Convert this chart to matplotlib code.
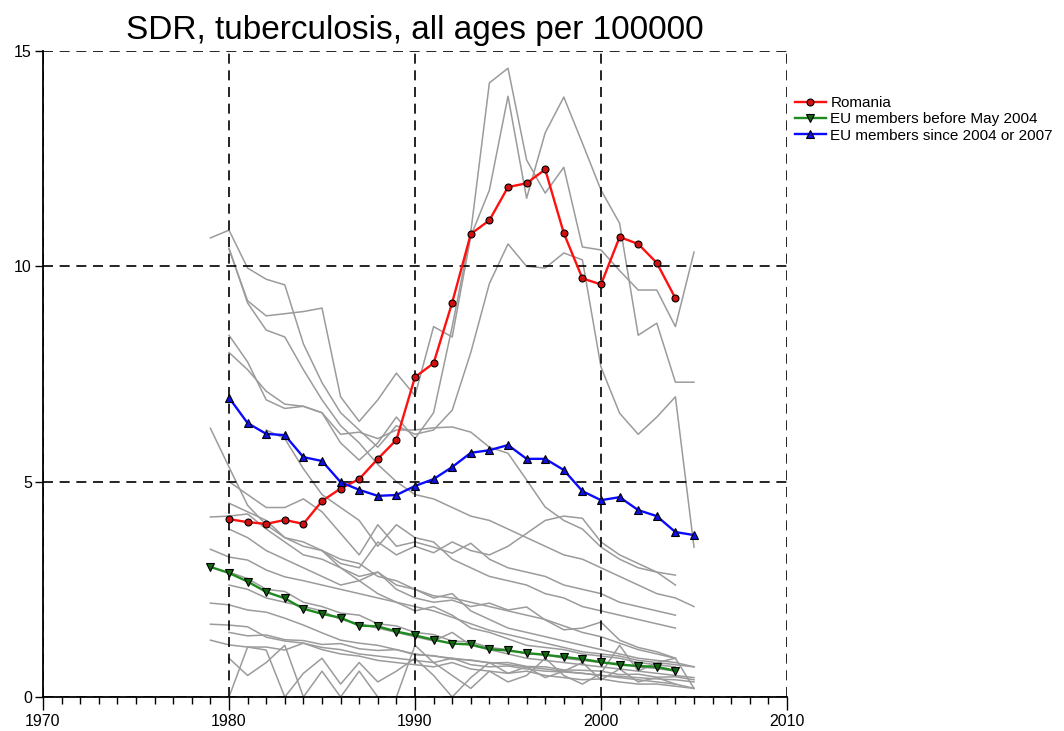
import matplotlib
matplotlib.use("Agg")
import matplotlib.pyplot as plt
from matplotlib.ticker import MultipleLocator

NARROW_STACK = ["Liberation Sans Narrow", "Liberation Sans", "DejaVu Sans"]
REGULAR_STACK = ["Liberation Sans", "DejaVu Sans"]
plt.rcParams["font.family"] = REGULAR_STACK

# ---- highlighted series -------------------------------------------------
romania_years = list(range(1980, 2005))
romania = [4.13, 4.06, 4.02, 4.11, 4.02, 4.55, 4.84, 5.06, 5.53, 5.97,
           7.43, 7.75, 9.16, 10.75, 11.07, 11.84, 11.93, 12.25, 10.77, 9.72,
           9.58, 10.68, 10.52, 10.08, 9.26]

eu_old_years = list(range(1979, 2005))
eu_old = [3.02, 2.88, 2.68, 2.44, 2.29, 2.05, 1.93, 1.84, 1.66, 1.64,
          1.52, 1.43, 1.33, 1.24, 1.22, 1.11, 1.08, 1.02, 0.98, 0.93,
          0.88, 0.81, 0.75, 0.72, 0.70, 0.61]

eu_new_years = list(range(1980, 2006))
eu_new = [6.95, 6.36, 6.11, 6.08, 5.57, 5.48, 4.99, 4.81, 4.67, 4.69,
          4.90, 5.06, 5.34, 5.67, 5.73, 5.85, 5.53, 5.53, 5.27, 4.78,
          4.57, 4.64, 4.34, 4.20, 3.83, 3.76]

# ---- individual countries (grey background lines) ------------------------
# each entry: first year, then yearly values
c01_start = 1979
c01 = [10.66, 10.84, 9.96, 9.7, 9.57, 8.2, 7.3, 6.6, 6.2, 5.8, 6.3, 6.1, 6.2,
       6.66, 8.0, 9.6, 10.52, 10.0, 9.96, 10.31, 10.15, 7.66, 6.59, 6.1, 6.5,
       6.97, 3.48]
c02_start = 1980
c02 = [10.42, 9.15, 8.52, 8.36, 7.6, 6.9, 6.3, 5.9, 5.4, 5.0, 4.7, 4.6, 4.4,
       4.2, 4.1, 3.9, 3.7, 3.5, 3.3, 3.2, 3.0, 2.8, 2.6, 2.4, 2.3, 2.1]
c03_start = 1980
c03 = [10.4, 9.2, 8.85, 8.9, 8.95, 9.03, 6.97, 6.4, 6.9, 7.52, 7.0, 8.6, 8.36,
       10.7, 11.77, 13.95, 11.58, 13.1, 13.93, 12.86, 11.77, 11.0, 8.4, 8.68,
       7.31, 7.31]
c04_start = 1980
c04 = [8.4, 7.78, 6.9, 6.7, 6.75, 6.6, 5.9, 5.5, 5.9, 6.5, 6.0, 6.6, 8.6,
       10.8, 14.26, 14.6, 12.47, 11.7, 12.3, 10.45, 10.38, 9.9, 9.45, 9.45,
       8.6, 10.33]
c05_start = 1980
c05 = [8.0, 7.6, 7.1, 6.8, 6.75, 6.6, 6.1, 6.15, 6.0, 6.2, 6.2, 6.25, 6.27,
       6.15, 5.8, 5.66, 5.04, 4.41, 4.1, 3.9, 3.48, 3.2, 3.0, 2.9, 2.83]
c06_start = 1979
c06 = [6.24, 5.34, 4.45, 4.0, 3.7, 3.6, 3.4, 3.1, 3.0, 3.6, 3.3, 3.5, 3.35,
       3.6, 3.4, 3.3, 3.5, 3.8, 4.1, 4.2, 4.15, 3.6, 3.3, 3.1, 2.9, 2.6]
c07_start = 1979
c07 = [4.18, 4.2, 4.25, 3.9, 3.6, 3.3, 3.2, 3.0, 2.8, 2.9, 2.6, 2.5, 2.35,
       2.3, 2.2, 2.1, 2.0, 1.9, 1.8, 1.65, 1.5, 1.4, 1.25, 1.1, 1.0, 0.9]
c08_start = 1979
c08 = [3.43, 3.25, 3.18, 2.95, 2.79, 2.7, 2.6, 2.5, 2.4, 2.3, 2.2, 2.1, 2.0,
       1.85, 1.7, 1.55, 1.45, 1.35, 1.25, 1.15, 1.05, 1.0, 0.95, 0.85, 0.8,
       0.75, 0.7]
c09_start = 1979
c09 = [2.18, 2.14, 2.02, 1.97, 1.83, 1.67, 1.49, 1.32, 1.25, 1.2, 1.1, 1.0,
       0.95, 0.9, 0.85, 0.8, 0.75, 0.7, 0.65, 0.6, 0.55, 0.5, 0.45, 0.4,
       0.35, 0.3]
c10_start = 1979
c10 = [1.69, 1.67, 1.63, 1.39, 1.3, 1.25, 1.15, 1.1, 1.0, 0.95, 0.9, 0.85,
       0.8, 0.9, 0.75, 0.7, 0.72, 0.65, 0.6, 0.58, 0.55, 0.5, 0.48, 0.45,
       0.42, 0.4, 0.35]
c11_start = 1979
c11 = [1.32, 1.21, 1.16, 1.16, 1.09, 1.25, 1.1, 1.0, 0.95, 0.85, 0.8, 0.75,
       0.7, 0.8, 0.65, 0.6, 0.55, 0.6, 0.5, 0.45, 0.4, 0.42, 0.35, 0.3, 0.3,
       0.25, 0.2]
c12_start = 1980
c12 = [0.0, 1.16, 1.09, 0.0, 0.55, 0.9, 0.3, 0.8, 0.35, 0.6, 0.9, 0.5, 0.0,
       0.45, 0.8, 0.55, 0.7, 0.45, 0.6, 0.8, 0.4, 0.65, 0.35, 0.45, 0.3, 0.2]
c13_start = 1980
c13 = [0.9, 0.5, 0.8, 1.2, 0.0, 0.6, 0.0, 0.6, 0.0, 0.0, 1.2, 0.8, 0.5, 0.2,
       0.6, 0.35, 0.5, 0.9, 0.5, 0.3, 0.55, 1.2, 0.6, 0.8, 0.9, 0.2]
c14_start = 1980
c14 = [4.5, 4.3, 4.1, 3.7, 3.5, 3.4, 3.2, 3.1, 2.8, 2.7, 2.5, 2.3, 2.4, 2.0,
       1.8, 1.6, 1.5, 1.4, 1.3, 1.2, 1.1, 1.0, 0.9, 0.85, 0.8, 0.7]
c15_start = 1980
c15 = [3.9, 3.7, 3.4, 3.2, 3.0, 2.8, 2.6, 2.7, 2.4, 2.2, 2.0, 2.1, 1.9, 1.6,
       1.5, 1.35, 1.2, 1.15, 1.1, 1.0, 0.95, 0.9, 0.8, 0.75, 0.7]
c16_start = 1980
c16 = [2.6, 2.5, 2.3, 2.2, 2.1, 2.0, 1.8, 1.7, 1.6, 1.5, 1.4, 1.3, 1.5, 1.2,
       1.1, 1.0, 0.9, 0.85, 0.8, 0.75, 0.7, 0.65, 0.6, 0.55, 0.5, 0.45]
c17_start = 1985
c17 = [3.4, 3.0, 2.7, 2.9, 2.5, 2.3, 2.2, 2.25, 2.1, 2.18, 2.02, 2.09, 1.79,
       1.56, 1.6, 1.74, 1.32, 1.15, 1.05, 0.9]
c18_start = 1980
c18 = [5.0, 4.7, 4.4, 4.4, 4.6, 4.3, 3.8, 3.3, 4.0, 3.5, 3.6, 3.48, 3.34,
       3.57, 3.2, 3.0, 2.9, 2.8, 2.6, 2.5, 2.4, 2.2, 2.1, 2.0, 1.9]
c19_start = 1980
c19 = [1.5, 1.42, 1.44, 1.33, 1.31, 1.22, 1.24, 1.12, 1.08, 1.1, 0.98, 0.96,
       0.88, 0.86, 0.79, 0.8, 0.71, 0.7, 0.63, 0.62, 0.6, 0.52, 0.53, 0.46,
       0.47, 0.4]
c20_start = 1980
c20 = [2.9, 2.75, 2.5, 2.45, 2.2, 2.1, 1.95, 1.9, 1.7, 1.65, 1.5, 1.45, 1.3,
       1.28, 1.15, 1.1, 1.0, 0.98, 0.9, 0.85, 0.8, 0.78, 0.7, 0.66, 0.6]
c21_start = 1982
c21 = [6.2, 6.0, 5.3, 4.7, 4.4, 4.1, 3.5, 4.0, 3.7, 3.6, 3.2, 3.0, 2.8, 2.7,
       2.6, 2.4, 2.3, 2.1, 2.0, 1.9, 1.8, 1.7, 1.6]

countries = [
    (c01_start, c01), (c02_start, c02), (c03_start, c03), (c04_start, c04),
    (c05_start, c05), (c06_start, c06), (c07_start, c07), (c08_start, c08),
    (c09_start, c09), (c10_start, c10), (c11_start, c11), (c12_start, c12),
    (c13_start, c13), (c14_start, c14), (c15_start, c15), (c16_start, c16),
    (c17_start, c17), (c18_start, c18), (c19_start, c19), (c20_start, c20),
    (c21_start, c21),
]

title = "SDR, tuberculosis, all ages per 100000"
x_ticks = [1970, 1980, 1990, 2000, 2010]
y_ticks = [0, 5, 10, 15]

# ---- figure --------------------------------------------------------------
fig = plt.figure(figsize=(10.64, 7.31), dpi=100)
ax = fig.add_axes([43 / 1064, 1 - 697 / 731, (787 - 43) / 1064, (697 - 51) / 731])

for start, vals in countries:
    yrs = list(range(start, start + len(vals)))
    ax.plot(yrs, vals, color="#9b9b9b", lw=1.1, zorder=2)

ax.plot(romania_years, romania, color="#ff1010", lw=1.7, marker="o",
        ms=5, mfc="#d01010", mec="black", mew=0.8, zorder=5, label="Romania")
ax.plot(eu_old_years, eu_old, color="#1f8a1f", lw=1.7, marker="v",
        ms=6, mfc="#116611", mec="black", mew=0.8, zorder=5,
        label="EU members before May 2004")
ax.plot(eu_new_years, eu_new, color="#0a0aff", lw=1.7, marker="^",
        ms=6, mfc="#1010e0", mec="black", mew=0.8, zorder=5,
        label="EU members since 2004 or 2007")

ax.set_xlim(1970, 2010)
ax.set_ylim(0, 15)
ax.set_xticks(x_ticks)
ax.set_yticks(y_ticks)
ax.xaxis.set_minor_locator(MultipleLocator(1))
ax.tick_params(axis="x", which="major", direction="out", length=9, width=1,
               labelsize=11.5, pad=3)
ax.tick_params(axis="x", which="minor", direction="out", length=5, width=1)
ax.tick_params(axis="y", which="major", direction="out", length=6, width=1,
               labelsize=11.5, pad=2)
for lab in ax.get_xticklabels() + ax.get_yticklabels():
    lab.set_family(NARROW_STACK)

ax.grid(True, which="major", color="black", lw=1.2, ls=(0, (6, 4)))
ax.set_axisbelow(False)
for side in ("top", "right"):
    ax.spines[side].set_visible(False)
for side in ("left", "bottom"):
    ax.spines[side].set_linewidth(1.3)

ax.set_title(title, fontsize=24, family=NARROW_STACK, pad=9)

fig.legend(loc="upper left", bbox_to_anchor=(789 / 1064, 1 - 90 / 731),
           frameon=False, fontsize=11, handlelength=2.0, handletextpad=0.3,
           labelspacing=0.15, borderaxespad=0)

fig.savefig("out.png", dpi=100)
